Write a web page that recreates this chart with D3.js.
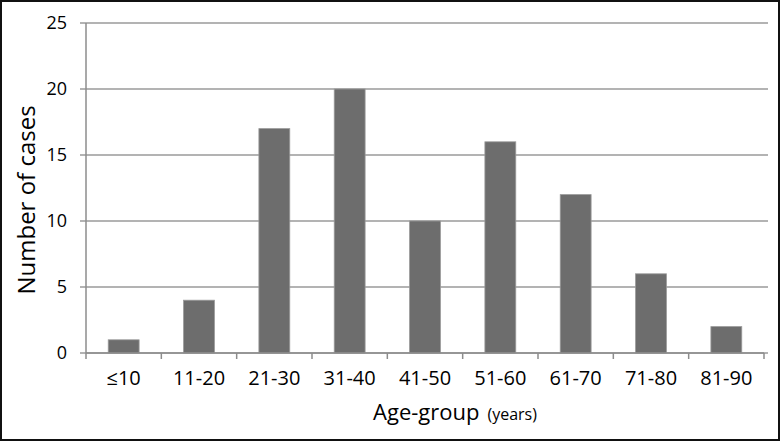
<!DOCTYPE html>
<html>
<head>
<meta charset="utf-8">
<script src="https://d3js.org/d3.v7.min.js"></script>
<style>
  body { margin: 0; background: #fff; }
  svg { display: block; }
</style>
</head>
<body>
<svg width="780" height="441"></svg>
<script>
  var ageGroups = ["≤10", "11-20", "21-30", "31-40", "41-50", "51-60", "61-70", "71-80", "81-90"];
  var cases = [1, 4, 17, 20, 10, 16, 12, 6, 2];
  var yTicks = [0, 5, 10, 15, 20, 25];

  var svg = d3.select("svg"),
    margin = { top: 23, right: 16, bottom: 88, left: 86 },
    width = 780 - margin.left - margin.right,
    height = 441 - margin.top - margin.bottom;

  var font = "'Open Sans', sans-serif";

  svg.append("rect")
    .attr("x", 1).attr("y", 1)
    .attr("width", 778).attr("height", 439)
    .attr("fill", "#fff")
    .attr("stroke", "#111")
    .attr("stroke-width", 2);

  var g = svg.append("g")
    .attr("transform", "translate(" + margin.left + "," + margin.top + ")");

  var x = d3.scaleBand().domain(ageGroups).range([0, width]).paddingInner(0.59).paddingOuter(0.295);
  var xTicks = d3.scaleBand().domain(ageGroups).range([0, width]);
  var y = d3.scaleLinear().domain([0, 25]).range([height, 0]);

  // gridlines
  g.selectAll(".grid")
    .data(yTicks)
    .enter().append("line")
    .attr("x1", -6)
    .attr("x2", width + 4)
    .attr("y1", function (d) { return y(d); })
    .attr("y2", function (d) { return y(d); })
    .attr("stroke", "#9a9a9a")
    .attr("stroke-width", 1.5);

  // y tick labels
  g.selectAll(".ylab")
    .data(yTicks)
    .enter().append("text")
    .attr("x", -19)
    .attr("y", function (d) { return y(d); })
    .attr("dy", "0.36em")
    .attr("text-anchor", "end")
    .style("font", "500 18px " + font)
    .attr("fill", "#000")
    .text(function (d) { return d; });

  // bars
  g.selectAll(".bar")
    .data(cases)
    .enter().append("rect")
    .attr("x", function (d, i) { return x(ageGroups[i]); })
    .attr("width", x.bandwidth())
    .attr("y", function (d) { return y(d); })
    .attr("height", function (d) { return height - y(d); })
    .attr("fill", "#6d6d6d")
    .attr("stroke", "#9a9a9a")
    .attr("stroke-width", 0.8);

  // y axis line
  g.append("line")
    .attr("x1", 0).attr("x2", 0)
    .attr("y1", 0).attr("y2", height)
    .attr("stroke", "#8c8c8c")
    .attr("stroke-width", 1.5);

  // x axis
  var xAxis = g.append("g")
    .attr("transform", "translate(0," + height + ")");
  xAxis.append("line")
    .attr("x1", 0).attr("x2", width)
    .attr("stroke", "#8c8c8c")
    .attr("stroke-width", 1.5);
  xAxis.selectAll(".xt")
    .data(d3.range(ageGroups.length + 1))
    .enter().append("line")
    .attr("x1", function (d) { return d * xTicks.bandwidth(); })
    .attr("x2", function (d) { return d * xTicks.bandwidth(); })
    .attr("y1", 0).attr("y2", 6)
    .attr("stroke", "#8c8c8c")
    .attr("stroke-width", 1.5);
  xAxis.selectAll(".xlab")
    .data(ageGroups)
    .enter().append("text")
    .attr("x", function (d) { return xTicks(d) + xTicks.bandwidth() / 2; })
    .attr("y", 32)
    .attr("text-anchor", "middle")
    .style("font", "500 20px " + font)
    .attr("fill", "#000")
    .text(function (d) { return d; });

  // axis titles
  var xt = svg.append("text")
    .attr("x", 455)
    .attr("y", 420)
    .attr("text-anchor", "middle")
    .style("font", "500 22px " + font)
    .attr("fill", "#000");
  xt.append("tspan").text("Age-group");
  xt.append("tspan").style("font-size", "16px").attr("dx", 8).text("(years)");

  svg.append("text")
    .attr("transform", "translate(35," + (margin.top + height / 2 + 12) + ") rotate(-90)")
    .attr("text-anchor", "middle")
    .style("font", "500 24px " + font)
    .attr("fill", "#000")
    .text("Number of cases");
</script>
</body>
</html>
